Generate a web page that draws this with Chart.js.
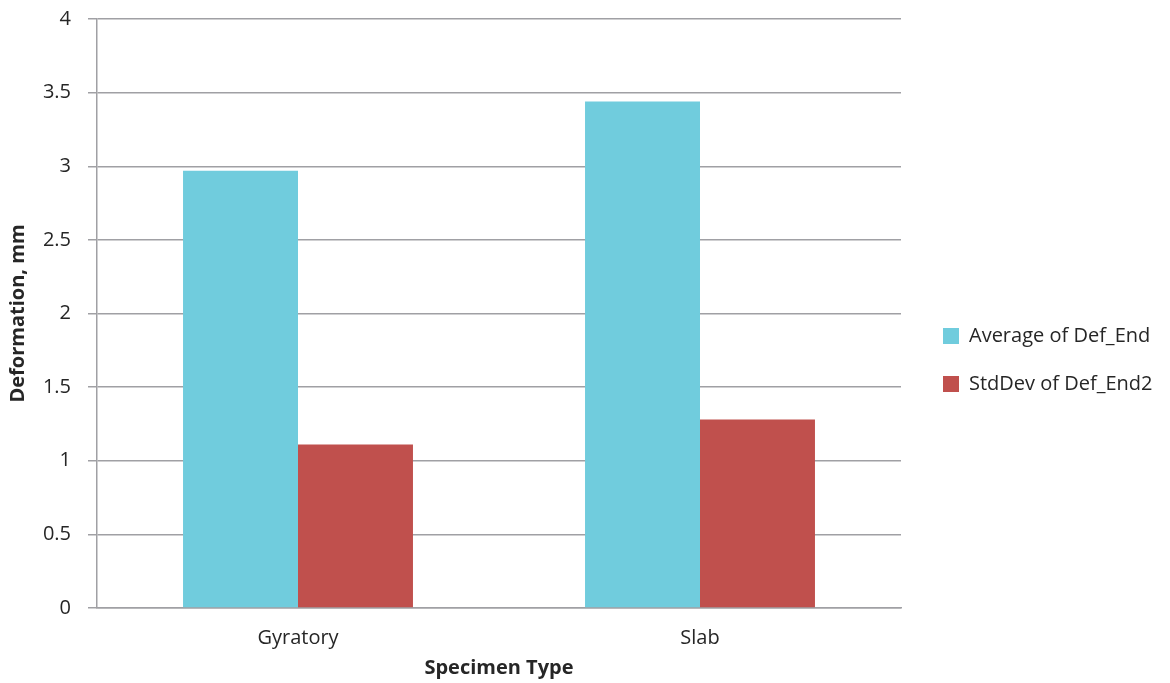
<!DOCTYPE html>
<html>
<head>
<meta charset="utf-8">
<title>Deformation by Specimen Type</title>
<script src="https://cdn.jsdelivr.net/npm/chart.js@4"></script>
<style>
  html, body { margin: 0; padding: 0; background: #ffffff; }
  canvas { display: block; }
</style>
</head>
<body>
<canvas id="deformationChart" width="1170" height="683"></canvas>
<script>
// data
const specimenTypes = ['Gyratory', 'Slab'];
const avgDefEnd = [2.97, 3.44];
const stdDevDefEnd2 = [1.11, 1.28];
const seriesNames = ['Average of Def_End', 'StdDev of Def_End2'];

const gridGrey = '#a0a0a4';
const textDark = '#262626';
const fontFamily = '"Open Sans", Lato, sans-serif';
const legendPad = 28;

// nudge the legend to where the reference has it
const legendPlace = {
  id: 'legendPlace',
  afterLayout(chart) {
    const lg = chart.legend;
    if (!lg) return;
    const w = lg.right - lg.left;
    lg.left = 943 - legendPad;
    lg.right = lg.left + w;
    lg.top = 326 - legendPad;
  }
};

const deformationCtx = document.getElementById('deformationChart').getContext('2d');
const deformationChart = new Chart(deformationCtx, {
    type: 'bar',
    data: {
        labels: specimenTypes,
        datasets: [{
            label: seriesNames[0],
            data: avgDefEnd,
            backgroundColor: '#70ccdd',
        }, {
            label: seriesNames[1],
            data: stdDevDefEnd2,
            backgroundColor: '#c0504d',
        }]
    },
    options: {
        responsive: false,
        animation: false,
        layout: { padding: { top: 19, right: 0, bottom: 0, left: 0 } },
        datasets: {
            bar: { barPercentage: 1, categoryPercentage: 0.572 }
        },
        scales: {
            x: {
                grid: { display: false, drawTicks: false },
                border: { display: true, color: gridGrey, width: 1.5 },
                ticks: { color: textDark, font: { family: fontFamily, size: 20 }, padding: 18 },
                title: {
                    display: true,
                    text: 'Specimen Type',
                    color: textDark,
                    font: { family: fontFamily, size: 20, weight: 'bold' },
                    padding: { top: 4, bottom: 3 }
                },
                afterFit(scale) {
                    scale.height = 75;
                    scale.paddingLeft = 0;
                    scale.paddingRight = 0;
                }
            },
            y: {
                min: 0,
                max: 4,
                grid: { color: gridGrey, lineWidth: 1.5, tickLength: 9 },
                border: { color: gridGrey, width: 1.5 },
                ticks: {
                    stepSize: 0.5,
                    color: textDark,
                    padding: 17,
                    font: { family: fontFamily, size: 20 },
                    callback: v => String(v)
                },
                title: {
                    display: true,
                    text: 'Deformation, mm',
                    color: textDark,
                    font: { family: fontFamily, size: 20, weight: 'bold' },
                    padding: { top: 6, bottom: 0 }
                },
                afterFit(scale) {
                    scale.width = 97;
                    scale.paddingTop = 0;
                    scale.paddingBottom = 0;
                }
            }
        },
        plugins: {
            legend: {
                position: 'right',
                align: 'start',
                labels: {
                    boxWidth: 16,
                    boxHeight: 16,
                    padding: legendPad,
                    color: textDark,
                    font: { family: fontFamily, size: 20 }
                }
            },
            tooltip: { enabled: false }
        }
    },
    plugins: [legendPlace]
});

// make the plot area end at x=901 like the reference
deformationChart.options.layout.padding.right = Math.max(0, 1170 - 901 - deformationChart.legend.width);
deformationChart.update();
</script>
</body>
</html>
